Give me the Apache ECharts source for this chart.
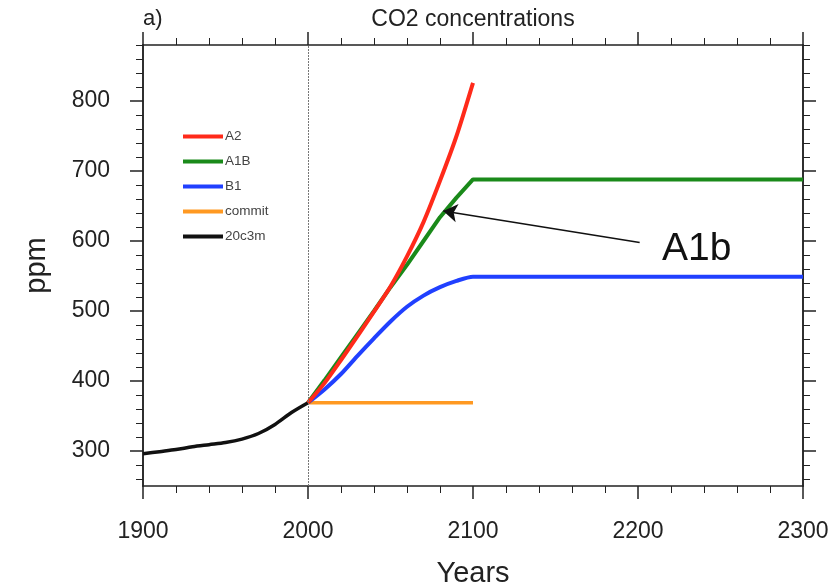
<!DOCTYPE html>
<html>
<head>
<meta charset="utf-8">
<script src="https://cdn.jsdelivr.net/npm/echarts@6/dist/echarts.min.js"></script>
<style>
  html, body { margin: 0; padding: 0; background: #fff; }
  #chart { width: 840px; height: 585px; }
</style>
</head>
<body>
<div id="chart"></div>
<script>
// ---- data ----
const histYears = [1900, 1910, 1920, 1930, 1940, 1950, 1960, 1970, 1980, 1990, 2000];
const hist20c3m = [296, 299, 302, 306, 309, 312, 317, 325, 338, 355, 369];

const scenYears = [2000, 2010, 2020, 2030, 2040, 2050, 2060, 2070, 2080, 2090, 2100];
const a2 = [369, 397, 430, 464, 499, 535, 578, 627, 686, 750, 826];
const a1b = [369, 401, 434, 467, 500, 534, 566, 600, 634, 662, 688];
const b1 = [369, 388, 410, 436, 461, 485, 506, 522, 534, 543, 549];

const stabYears = [2100, 2300];
const a1bStab = [688, 688];
const b1Stab = [549, 549];

const commitYears = [2000, 2100];
const commitVals = [369, 369];

const yMajorTicks = [300, 400, 500, 600, 700, 800];
const yMinorTicks = [260, 280, 320, 340, 360, 380, 420, 440, 460, 480, 520, 540, 560, 580,
                     620, 640, 660, 680, 720, 740, 760, 780, 820, 840, 860, 880];

const legendNames = ['A2', 'A1B', 'B1', 'commit', '20c3m'];
const arrowFrom = [2201, 598];
const arrowTo = [2082, 643];

// ---- helpers ----
function pairs(xs, ys) { return xs.map((x, i) => [x, ys[i]]); }

const FONT = 'Liberation Sans, Arial, Helvetica, sans-serif';
const AX = '#222';

const chart = echarts.init(document.getElementById('chart'), null, { renderer: 'canvas' });

function xAxisDef(pos, withLabels) {
  return {
    type: 'value', position: pos, min: 1900, max: 2300, interval: 100,
    axisLine: { show: true, onZero: false, lineStyle: { color: AX, width: 1.5 } },
    axisTick: { show: true, length: 13, lineStyle: { color: AX, width: 1.5 } },
    minorTick: { show: true, splitNumber: 5, length: 7, lineStyle: { color: AX, width: 1 } },
    axisLabel: withLabels ? { show: true, fontSize: 23, color: AX, margin: 34, fontFamily: FONT,
                              formatter: v => String(v) } : { show: false },
    splitLine: { show: false },
    name: withLabels ? 'Years' : '',
    nameLocation: 'middle', nameGap: 73,
    nameTextStyle: { fontSize: 29, color: AX, fontFamily: FONT }
  };
}

function yAxisDef(pos, ticks, len, width, withLabels) {
  return {
    type: 'value', position: pos, min: 250, max: 880,
    axisLine: { show: true, onZero: false, lineStyle: { color: AX, width: 1.5 } },
    axisTick: { show: true, customValues: ticks, length: len, lineStyle: { color: AX, width: width } },
    axisLabel: withLabels ? { show: true, customValues: ticks, fontSize: 23, color: AX, margin: 33, fontFamily: FONT } : { show: false },
    splitLine: { show: false },
    name: withLabels ? 'ppm' : '',
    nameLocation: 'middle', nameGap: 92,
    nameTextStyle: { fontSize: 29, color: AX, fontFamily: FONT }
  };
}

const lineCommon = { type: 'line', symbol: 'none', smooth: false, xAxisIndex: 0, yAxisIndex: 0, z: 3 };

const option = {
  animation: false,
  backgroundColor: '#fff',
  textStyle: { fontFamily: FONT },
  grid: { left: 143, right: 37, top: 45, bottom: 99, containLabel: false, outerBoundsMode: 'none' },
  xAxis: [xAxisDef('bottom', true), xAxisDef('top', false)],
  yAxis: [
    yAxisDef('left', yMajorTicks, 13, 1.5, true),
    yAxisDef('left', yMinorTicks, 7, 1, false),
    yAxisDef('right', yMajorTicks, 13, 1.5, false),
    yAxisDef('right', yMinorTicks, 7, 1, false)
  ],
  legend: {
    orient: 'vertical', left: 183, top: 129, padding: 0,
    data: legendNames.map(n => ({ name: n, icon: 'rect' })),
    itemWidth: 40, itemHeight: 4, itemGap: 10,
    textStyle: { fontSize: 13.5, color: '#444', lineHeight: 15, fontFamily: FONT, padding: [0, 0, 0, -3] },
    selectedMode: false
  },
  graphic: [
    { type: 'text', left: 143, top: 8, style: { text: 'a)', fontSize: 22, fill: AX, fontFamily: FONT } },
    { type: 'text', x: 473, y: 20, style: { text: 'CO2 concentrations', fontSize: 23, fill: AX, fontFamily: FONT, align: 'center', verticalAlign: 'middle' } },
    { type: 'text', x: 662, y: 249, style: { text: 'A1b', fontSize: 39, fill: '#111', fontFamily: FONT, align: 'left', verticalAlign: 'middle' } }
  ],
  series: [
    Object.assign({}, lineCommon, {
      name: '20c3m', color: '#111', smooth: 0.3,
      lineStyle: { width: 3.5, color: '#111' },
      data: pairs(histYears, hist20c3m)
    }),
    Object.assign({}, lineCommon, {
      name: 'commit', color: '#ff9922',
      lineStyle: { width: 3.5, color: '#ff9922' },
      data: pairs(commitYears, commitVals),
      markLine: {
        silent: true, symbol: ['none', 'none'], label: { show: false },
        lineStyle: { color: '#777', width: 1, type: [2, 1] },
        data: [{ xAxis: 2000 }]
      }
    }),
    Object.assign({}, lineCommon, {
      name: 'B1', color: '#2040ff', smooth: 0.25,
      lineStyle: { width: 4, color: '#2040ff' },
      data: pairs(scenYears, b1).concat(pairs(stabYears, b1Stab).slice(1))
    }),
    Object.assign({}, lineCommon, {
      name: 'A1B', color: '#1a8a1a',
      lineStyle: { width: 4, color: '#1a8a1a' },
      data: pairs(scenYears, a1b).concat(pairs(stabYears, a1bStab).slice(1)),
      markLine: {
        silent: true, symbol: ['none', 'arrow'], symbolSize: 14,
        label: { show: false },
        lineStyle: { color: '#111', width: 1.5, type: 'solid' },
        data: [[{ coord: arrowFrom }, { coord: arrowTo }]]
      }
    }),
    Object.assign({}, lineCommon, {
      name: 'A2', color: '#ff2a1a', smooth: 0.25,
      lineStyle: { width: 4, color: '#ff2a1a' },
      data: pairs(scenYears, a2)
    })
  ]
};

chart.setOption(option);
</script>
</body>
</html>
